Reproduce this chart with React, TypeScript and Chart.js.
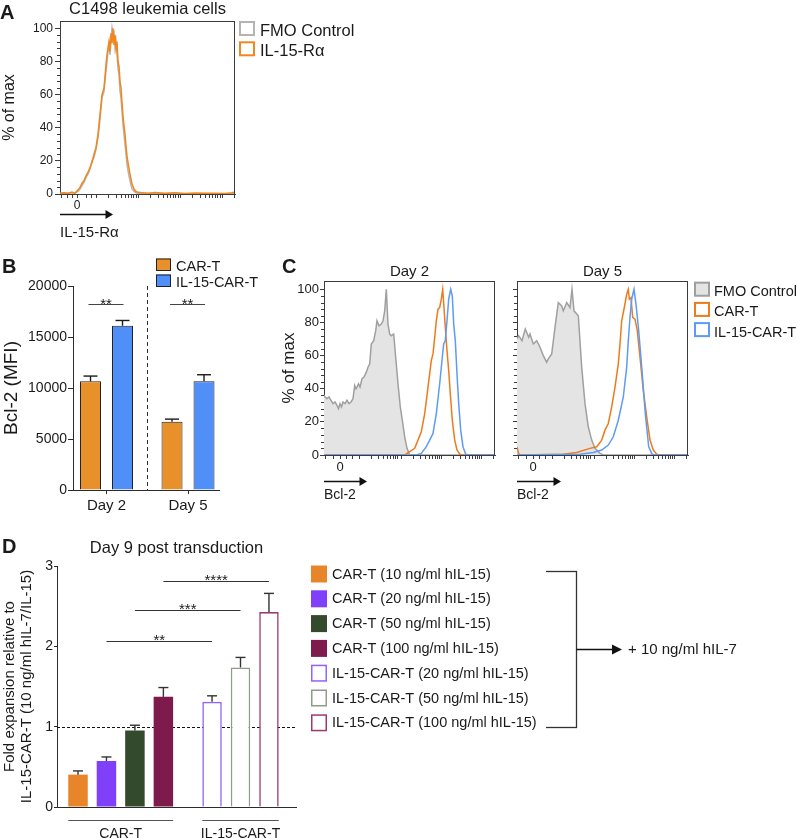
import React, { useEffect, useRef } from 'react';
import { Chart, registerables } from 'chart.js';

Chart.register(...registerables);

const FONT = "'Liberation Sans', Arial, Helvetica, sans-serif";
Chart.defaults.font.family = FONT;
Chart.defaults.color = '#1a1a1a';

const INK = '#1a1a1a';
const AXIS = '#2b2b2b';
const FRAME = '#3c3c3c';

/* ================= Panel A : C1498 leukemia cells ================= */
const aChannel = [0, 4, 8, 12, 15, 18, 20, 22, 24, 26, 28, 30, 32, 34, 36, 38, 40, 42, 44, 46, 47, 48, 49, 50, 51, 52, 53, 54, 55, 56, 57, 58, 59, 60, 61, 62, 63, 64, 65, 66, 67, 68, 70, 72, 74, 76, 78, 82, 88, 95, 105, 115, 125, 135, 145, 155, 165, 172, 175];
const aFmoControl = [0.3, 0.6, 0.5, 0.8, 0.6, 1.5, 3, 5, 7, 10, 12, 15, 20, 22, 27, 34, 45, 58, 62, 74, 80, 86, 90, 84, 93, 100, 95, 97, 88, 92, 84, 76, 72, 62, 58, 50, 42, 36, 30, 24, 18, 14, 8, 3, 1.5, 0.8, 0.5, 0.4, 0.3, 0.2, 0.2, 0.3, 0.2, 0.2, 0.3, 0.2, 0.2, 0.3, 0.4];
const aIl15Ra = [0.5, 0.8, 0.3, 1.2, 0.4, 2.5, 4, 6.5, 8, 11, 13, 16, 19, 24, 28, 36, 48, 60, 64, 78, 84, 88, 92, 86, 97, 91, 100, 90, 96, 88, 92, 80, 77, 68, 64, 55, 47, 41, 36, 29, 23, 19, 12, 6, 3, 1.5, 1, 0.8, 0.5, 0.9, 0.4, 0.7, 0.3, 0.6, 0.4, 0.5, 0.3, 0.7, 1.2];
const aLowTicks = [1, 7, 12, 17, 26, 31];
const aZeroTick = 17;
const aDecades = [36, 78, 120, 162];

/* ================= Panel B : Bcl-2 MFI ================= */
const bDays = ['Day 2', 'Day 5'];
const bSeries = ['CAR-T', 'IL-15-CAR-T'];
const bCarT = [10650, 6700];
const bCarTErr = [520, 250];
const bIl15CarT = [16100, 10650];
const bIl15CarTErr = [520, 650];
const bSigLabels = ['**', '**'];
const bSigLevel = 18200;
const bYTicks = [0, 5000, 10000, 15000, 20000];

/* ================= Panel C : Bcl-2 histograms ================= */
const cSeries = ['FMO Control', 'CAR-T', 'IL-15-CAR-T'];
// Day 2
const c2FmoX = [0, 1, 3, 5, 7, 9, 11, 13, 14.5, 16, 17.5, 19, 21, 23, 25, 27, 29, 30.7, 32, 33, 34.5, 36, 38, 40, 42.3, 44, 45.7, 47.3, 49.7, 51.7, 53, 55, 57.3, 59, 60.7, 62.3, 64, 65.7, 67.3, 69.7, 71.7, 74, 76.3, 78.3, 80.7, 83, 85.7, 171];
const c2FmoY = [36, 35, 34, 35, 33, 31, 32, 30, 28, 31, 29, 32, 31, 33, 31, 32, 34, 42, 40, 41, 43, 41, 46, 47, 50, 53, 55, 67, 69, 75, 81, 78, 79, 81, 87, 100, 79, 73, 72, 73, 59, 43, 29, 21, 11, 4, 0, 0];
const c2CarX = [0, 80.7, 85.7, 90.7, 94, 97.3, 100.7, 104, 107.3, 109, 110.7, 112.3, 114, 115.7, 117.3, 118.7, 120, 121.3, 123, 124.7, 126.3, 128.3, 130.7, 133, 135.7, 138, 171];
const c2CarY = [0, 0, 2, 4, 9, 14, 25, 41, 57, 61, 71, 81, 88, 89, 94, 100, 89, 77, 63, 51, 37, 21, 9, 3, 0.5, 0, 0];
const c2IlX = [0, 92.3, 97.3, 102.3, 105.7, 109, 112.3, 115.7, 118.3, 119.7, 121.3, 123, 124.7, 126.7, 128.3, 129.7, 131.3, 133, 134.7, 136.7, 139, 141.7, 145.7, 171];
const c2IlY = [0, 0, 1, 5, 9, 13, 25, 43, 59, 67, 69, 81, 94, 100, 96, 79, 69, 49, 31, 15, 5, 0.5, 0, 0];
// Day 5
const c5FmoX = [0, 1.7, 5, 8.3, 11.7, 13, 16.3, 19.7, 23, 26.3, 29.7, 31.3, 34.7, 38, 41.3, 44.7, 46.3, 49.7, 53, 55, 57, 61.3, 64.7, 68, 71.3, 74.7, 78, 83, 86.3, 171];
const c5FmoY = [70, 72, 69, 76, 71, 73, 67, 69, 65, 60, 56, 58, 61, 77, 92, 90, 87, 92, 89, 100, 87, 84, 53, 31, 17, 9, 4, 1, 0, 0];
const c5CarX = [0, 1.5, 3, 46.3, 59.7, 73, 79.7, 84.7, 88, 91.3, 94.7, 98, 101.3, 103, 104.7, 107.3, 109.7, 111.3, 112.3, 114, 115.7, 118, 120.3, 123, 126.3, 129.7, 133, 136.3, 139.7, 143, 171];
const c5CarY = [5, 1, 0, 0.5, 1.5, 4, 5, 9, 15, 19, 29, 41, 55, 67, 81, 89, 97, 100, 94, 95, 83, 82, 75, 59, 39, 23, 9, 3, 0.5, 0, 0];
const c5IlX = [0, 63, 76.3, 84.7, 91.3, 96.3, 101.3, 106.3, 109.7, 111.3, 113, 114.7, 117, 119, 121.7, 125, 128.3, 131.7, 135, 138.3, 171];
const c5IlY = [0, 0.5, 1.5, 3, 6, 11, 21, 35, 53, 69, 83, 94, 100, 91, 75, 51, 25, 5, 0.5, 0, 0];
const cLowTicks = [1, 9, 16, 22, 28];
const cZeroTick = 16;
const cDecades = [35.7, 77.3, 117.3, 157.3];

const histYTicks = [0, 20, 40, 60, 80, 100];

/* ================= Panel D : Day 9 fold expansion ================= */
const dLabels = [
  'CAR-T (10 ng/ml hIL-15)',
  'CAR-T (20 ng/ml hIL-15)',
  'CAR-T (50 ng/ml hIL-15)',
  'CAR-T (100 ng/ml hIL-15)',
  'IL-15-CAR-T (20 ng/ml hIL-15)',
  'IL-15-CAR-T (50 ng/ml hIL-15)',
  'IL-15-CAR-T (100 ng/ml hIL-15)',
];
const dGroups = ['CAR-T', 'CAR-T', 'CAR-T', 'CAR-T', 'IL-15-CAR-T', 'IL-15-CAR-T', 'IL-15-CAR-T'];
const dValues = [0.403, 0.573, 0.951, 1.371, 1.309, 1.737, 2.426];
const dErrors = [0.046, 0.05, 0.067, 0.116, 0.075, 0.125, 0.233];
const dSigPairs = [[1, 4], [2, 5], [3, 6]];
const dSigStars = ['**', '***', '****'];
const dSigLevels = [2.066, 2.452, 2.813];
const dYTicks = [0, 1, 2, 3];
const dReference = 1;
const dSideNote = '+ 10 ng/ml hIL-7';

/* ================= styles ================= */
const A_GRAY = '#B4B4B4';
const A_ORANGE = '#F0871F';
const B_ORANGE = '#E8902A';
const B_BLUE = '#4F8FF7';
const C_GRAY = '#A0A0A0';
const C_FILL = '#E4E4E4';
const C_ORANGE = '#EC7B1E';
const C_BLUE = '#5E9BF4';
const D_FILL = ['#E8852A', '#8040FA', '#334A2C', '#7E1B4C', '#FFFFFF', '#FFFFFF', '#FFFFFF'];
const D_EDGE = ['#E8852A', '#8040FA', '#334A2C', '#7E1B4C', '#9063FF', '#8E9C89', '#9C3A70'];
const D_GAP = 1.71; // slot distance between the two bar groups
const dSlot = dLabels.map((_, i) => (dGroups[i] === dGroups[0] ? i : i - 1 + D_GAP));

/* ================= drawing helpers ================= */
function text(ctx: any, s: string, x: number, y: number, size: number, align: string = 'left', baseline: string = 'alphabetic', bold = false, color = INK) {
  ctx.font = `${bold ? 'bold ' : ''}${size}px ${FONT}`;
  ctx.fillStyle = color;
  ctx.textAlign = align;
  ctx.textBaseline = baseline;
  ctx.fillText(s, x, y);
}
function seg(ctx: any, x1: number, y1: number, x2: number, y2: number, color = AXIS, w = 1, dash: number[] = []) {
  ctx.beginPath();
  ctx.setLineDash(dash);
  ctx.strokeStyle = color;
  ctx.lineWidth = w;
  ctx.moveTo(x1, y1);
  ctx.lineTo(x2, y2);
  ctx.stroke();
  ctx.setLineDash([]);
}
function arrow(ctx: any, x1: number, y: number, x2: number, head = 7.5, half = 4.5) {
  seg(ctx, x1, y, x2 - head + 1, y, '#111', 1.4);
  ctx.beginPath();
  ctx.fillStyle = '#111';
  ctx.moveTo(x2, y);
  ctx.lineTo(x2 - head, y - half);
  ctx.lineTo(x2 - head, y + half);
  ctx.closePath();
  ctx.fill();
}
function logicleTicks(low: number[], decades: number[], span: number, max: number): number[] {
  const out = [...low];
  decades.forEach((d) => {
    out.push(d);
    for (let k = 2; k <= 9; k++) out.push(d + span * Math.log10(k));
  });
  return out.filter((v) => v <= max);
}
const plainNumber = (v: number) => String(v);

/* ================= histogram panels (A, C) ================= */
function histConfig(spec: any) {
  const datasets = spec.series.map((s: any) => ({
    label: s.label,
    data: s.xs.map((x: number, i: number) => ({ x, y: s.ys[i] })),
    borderColor: s.color,
    backgroundColor: s.fill || 'rgba(0,0,0,0)',
    fill: s.fill ? 'origin' : false,
    borderWidth: 1.5,
    pointRadius: 0,
    tension: 0,
    order: s.order,
  }));
  const deco = {
    id: 'histDeco',
    afterDraw(chart: any) {
      const { ctx, chartArea: ca } = chart;
      const ys = chart.scales.y;
      ctx.save();
      seg(ctx, ca.left, ca.top + 0.5, ca.right, ca.top + 0.5, FRAME, 1);
      seg(ctx, ca.right - 0.5, ca.top, ca.right - 0.5, ca.bottom, FRAME, 1);
      for (let v = 0; v <= 100; v += 4) {
        if (v % 20 === 0) continue;
        const p = Math.round(ys.getPixelForValue(v)) + 0.5;
        seg(ctx, ca.left - 3, p, ca.left, p, FRAME, 1);
      }
      arrow(ctx, ca.left, Math.round(ca.bottom + spec.arrowDy) + 0.5, ca.left + spec.arrowLen);
      if (spec.title) text(ctx, spec.title, (ca.left + ca.right) / 2, spec.titleBaseline, spec.titleSize, 'center');
      if (spec.letter) text(ctx, spec.letter, spec.letterX, spec.letterBaseline, 20, 'left', 'alphabetic', true);
      if (spec.legend) {
        const L = spec.legend;
        spec.series.forEach((s: any, i: number) => {
          const by = L.y0 + i * L.pitch;
          ctx.fillStyle = s.fill || '#ffffff';
          ctx.fillRect(L.x, by, L.boxW, L.boxH);
          ctx.strokeStyle = s.color;
          ctx.lineWidth = 2;
          ctx.strokeRect(L.x + 1, by + 1, L.boxW - 2, L.boxH - 2);
          text(ctx, s.label, L.textX, by + L.boxH - 0.5, L.size, 'left');
        });
      }
      ctx.restore();
    },
  };
  return {
    type: 'line',
    data: { datasets },
    options: {
      responsive: false,
      maintainAspectRatio: false,
      animation: false,
      events: [],
      layout: { padding: spec.padding },
      plugins: { legend: { display: false }, tooltip: { enabled: false } },
      scales: {
        x: {
          type: 'linear',
          min: 0,
          max: spec.xMax,
          afterBuildTicks: (s: any) => {
            s.ticks = spec.xTicks.map((v: number) => ({ value: v }));
          },
          afterFit: (s: any) => {
            s.height = spec.xAxisHeight;
          },
          ticks: {
            autoSkip: false,
            maxRotation: 0,
            minRotation: 0,
            font: { size: spec.xTickFont },
            padding: spec.xTickPad,
            color: INK,
            callback: (v: number) => (v === spec.zeroTick ? '0' : ''),
          },
          grid: { drawOnChartArea: false, tickLength: 4, tickColor: FRAME, offset: false },
          border: { color: FRAME, width: 1 },
          title: {
            display: true,
            text: spec.xTitle,
            align: 'start',
            font: { size: spec.xTitleSize },
            padding: { top: 0, bottom: spec.xTitlePad },
            color: INK,
          },
        },
        y: {
          type: 'linear',
          min: 0,
          max: spec.yMax,
          afterBuildTicks: (s: any) => {
            s.ticks = histYTicks.map((v) => ({ value: v }));
          },
          afterFit: (s: any) => {
            s.width = spec.yAxisWidth;
          },
          ticks: { display: spec.yLabels, font: { size: spec.yTickFont }, padding: spec.yTickPad, color: INK, callback: plainNumber },
          grid: { drawOnChartArea: false, tickLength: spec.yTickLen, tickColor: FRAME },
          border: { color: FRAME, width: 1 },
          title: spec.yTitle
            ? { display: true, text: spec.yTitle, font: { size: spec.yTitleSize }, padding: { top: spec.yTitlePad, bottom: 0 }, color: INK }
            : { display: false },
        },
      },
    },
    plugins: [deco],
  };
}

const aConfig = () =>
  histConfig({
    series: [
      { label: 'FMO Control', xs: aChannel, ys: aFmoControl, color: A_GRAY, order: 2 },
      { label: 'IL-15-Rα', xs: aChannel, ys: aIl15Ra, color: A_ORANGE, order: 1 },
    ],
    xMax: 175,
    yMax: 104.4,
    yAxisWidth: 60,
    xAxisHeight: 51,
    padding: { left: 0, top: 21, right: 165, bottom: 0 },
    yLabels: true,
    yTickFont: 12,
    yTickPad: 2,
    yTickLen: 5,
    yTitle: '% of max',
    yTitleSize: 16,
    yTitlePad: 0,
    xTitle: 'IL-15-Rα',
    xTitleSize: 15,
    xTitlePad: 3,
    xTicks: logicleTicks(aLowTicks, aDecades, 42, 175),
    zeroTick: aZeroTick,
    xTickFont: 12,
    xTickPad: 0,
    arrowDy: 20.3,
    arrowLen: 53,
    title: 'C1498 leukemia cells',
    titleSize: 16.5,
    titleBaseline: 13.5,
    letter: 'A',
    letterX: 0,
    letterBaseline: 18.5,
    legend: { x: 239, y0: 21, pitch: 20.3, boxW: 16, boxH: 15, textX: 260, size: 16.5 },
  });

const cSeriesDay2 = [
  { label: cSeries[0], xs: c2FmoX, ys: c2FmoY, color: C_GRAY, fill: C_FILL, order: 3 },
  { label: cSeries[1], xs: c2CarX, ys: c2CarY, color: C_ORANGE, order: 2 },
  { label: cSeries[2], xs: c2IlX, ys: c2IlY, color: C_BLUE, order: 1 },
];
const cSeriesDay5 = [
  { label: cSeries[0], xs: c5FmoX, ys: c5FmoY, color: C_GRAY, fill: C_FILL, order: 3 },
  { label: cSeries[1], xs: c5CarX, ys: c5CarY, color: C_ORANGE, order: 2 },
  { label: cSeries[2], xs: c5IlX, ys: c5IlY, color: C_BLUE, order: 1 },
];

const c2Config = () =>
  histConfig({
    series: cSeriesDay2,
    xMax: 171,
    yMax: 105,
    yAxisWidth: 54,
    xAxisHeight: 50,
    padding: { left: 0, top: 41, right: 10, bottom: 0 },
    yLabels: true,
    yTickFont: 13,
    yTickPad: 1,
    yTickLen: 4,
    yTitle: '% of max',
    yTitleSize: 17,
    yTitlePad: 9,
    xTitle: 'Bcl-2',
    xTitleSize: 14,
    xTitlePad: 1,
    xTicks: logicleTicks(cLowTicks, cDecades, 40, 171),
    zeroTick: cZeroTick,
    xTickFont: 13,
    xTickPad: 1,
    arrowDy: 26,
    arrowLen: 43,
    title: 'Day 2',
    titleSize: 15,
    titleBaseline: 35.5,
    letter: 'C',
    letterX: 12,
    letterBaseline: 33.3,
  });

const c5Config = () =>
  histConfig({
    series: cSeriesDay5,
    xMax: 171,
    yMax: 105,
    yAxisWidth: 12,
    xAxisHeight: 50,
    padding: { left: 0, top: 41, right: 109, bottom: 0 },
    yLabels: false,
    yTickFont: 13,
    yTickPad: 1,
    yTickLen: 4,
    xTitle: 'Bcl-2',
    xTitleSize: 14,
    xTitlePad: 1,
    xTicks: logicleTicks(cLowTicks, cDecades, 40, 171),
    zeroTick: cZeroTick,
    xTickFont: 13,
    xTickPad: 1,
    arrowDy: 26,
    arrowLen: 44,
    title: 'Day 5',
    titleSize: 15,
    titleBaseline: 35.5,
    legend: { x: 189, y0: 41.7, pitch: 20.2, boxW: 16, boxH: 15, textX: 209, size: 14.5 },
  });

/* ================= Panel B config ================= */
function bConfig() {
  const values = [bCarT, bIl15CarT];
  const errs = [bCarTErr, bIl15CarTErr];
  const colors = [B_ORANGE, B_BLUE];
  const deco = {
    id: 'bDeco',
    beforeDatasetsDraw(chart: any) {
      const { ctx, chartArea: ca, scales } = chart;
      ctx.save();
      const sx = Math.round(scales.x.getPixelForValue(0.5)) + 0.5;
      seg(ctx, sx, ca.top, sx, ca.bottom, AXIS, 1, [4, 3]);
      ctx.restore();
    },
    afterDatasetsDraw(chart: any) {
      const { ctx, scales } = chart;
      const ys = scales.y;
      ctx.save();
      [0, 1].forEach((d) => {
        const meta = chart.getDatasetMeta(d);
        meta.data.forEach((el: any, i: number) => {
          const top = ys.getPixelForValue(values[d][i] + errs[d][i]);
          seg(ctx, el.x, el.y, el.x, top, '#1a1a1a', 1.4);
          seg(ctx, el.x - 7, top, el.x + 7, top, '#1a1a1a', 1.4);
        });
      });
      const m0 = chart.getDatasetMeta(0);
      const m1 = chart.getDatasetMeta(1);
      bDays.forEach((_, i) => {
        const x1 = m0.data[i].x - 2;
        const x2 = m1.data[i].x + 1;
        const y = Math.round(ys.getPixelForValue(bSigLevel)) + 0.5;
        seg(ctx, x1, y, x2, y, '#444', 1.2);
        text(ctx, bSigLabels[i], (x1 + x2) / 2, y + 4.5, 15, 'center');
      });
      bSeries.forEach((lab, i) => {
        const by = 18.5 + i * 16;
        ctx.fillStyle = colors[i];
        ctx.fillRect(156, by, 15, 12.5);
        ctx.strokeStyle = '#222';
        ctx.lineWidth = 1;
        ctx.strokeRect(156.5, by + 0.5, 14, 11.5);
        text(ctx, lab, 176, by + 12, 14.5, 'left');
      });
      text(ctx, 'B', 2, 33.3, 20, 'left', 'alphabetic', true);
      ctx.restore();
    },
  };
  return {
    type: 'bar',
    data: {
      datasets: bSeries.map((lab, d) => ({
        label: lab,
        data: bDays.map((_, i) => ({ x: i, y: values[d][i] })),
        backgroundColor: colors[d],
        borderColor: '#222',
        borderWidth: 1,
        categoryPercentage: 0.785,
        barPercentage: 0.656,
      })),
    },
    options: {
      responsive: false,
      maintainAspectRatio: false,
      animation: false,
      events: [],
      layout: { padding: { left: 0, top: 46, right: 51, bottom: 0 } },
      plugins: { legend: { display: false }, tooltip: { enabled: false } },
      scales: {
        x: {
          type: 'linear',
          min: -0.411,
          max: 1.38,
          offset: false,
          afterBuildTicks: (s: any) => {
            s.ticks = bDays.map((_, i) => ({ value: i }));
          },
          afterFit: (s: any) => {
            s.height = 25;
          },
          ticks: {
            autoSkip: false,
            maxRotation: 0,
            font: { size: 15 },
            padding: 3,
            color: INK,
            callback: (v: number) => bDays[v] ?? '',
          },
          grid: { drawOnChartArea: false, tickLength: 4, tickColor: AXIS, offset: false },
          border: { color: AXIS, width: 1 },
        },
        y: {
          min: 0,
          max: 20000,
          afterBuildTicks: (s: any) => {
            s.ticks = bYTicks.map((v) => ({ value: v }));
          },
          afterFit: (s: any) => {
            s.width = 73;
          },
          ticks: { font: { size: 14 }, padding: 1, color: INK, callback: plainNumber },
          grid: { drawOnChartArea: false, tickLength: 5, tickColor: AXIS },
          border: { color: AXIS, width: 1 },
          title: { display: true, text: 'Bcl-2 (MFI)', font: { size: 19 }, padding: { top: 0, bottom: 0 }, color: INK },
        },
      },
    },
    plugins: [deco],
  };
}

/* ================= Panel D config ================= */
function dConfig() {
  const deco = {
    id: 'dDeco',
    beforeDatasetsDraw(chart: any) {
      const { ctx, chartArea: ca, scales } = chart;
      ctx.save();
      const ry = Math.round(scales.y.getPixelForValue(dReference)) + 0.5;
      seg(ctx, ca.left, ry, ca.right, ry, '#111', 1, [3, 2]);
      ctx.restore();
    },
    afterDatasetsDraw(chart: any) {
      const { ctx, chartArea: ca, scales } = chart;
      const xs = scales.x;
      const ys = scales.y;
      const meta = chart.getDatasetMeta(0);
      ctx.save();
      meta.data.forEach((el: any, i: number) => {
        const top = ys.getPixelForValue(dValues[i] + dErrors[i]);
        seg(ctx, el.x, el.y, el.x, top, '#333', 1.4);
        seg(ctx, el.x - 5, top, el.x + 5, top, '#333', 1.4);
      });
      dSigPairs.forEach(([a, b], k) => {
        const x1 = xs.getPixelForValue(dSlot[a]);
        const x2 = xs.getPixelForValue(dSlot[b]);
        const y = Math.round(ys.getPixelForValue(dSigLevels[k])) + 0.5;
        seg(ctx, x1, y, x2, y, '#333', 1);
        text(ctx, dSigStars[k], (x1 + x2) / 2, y + 3, 15, 'center');
      });
      const groupNames = Array.from(new Set(dGroups));
      groupNames.forEach((g) => {
        const idx = dGroups.map((gg, i) => (gg === g ? i : -1)).filter((i) => i >= 0);
        const first = meta.data[idx[0]];
        const last = meta.data[idx[idx.length - 1]];
        const x1 = first.x - first.width / 2;
        const x2 = last.x + last.width / 2;
        seg(ctx, x1, 300.5, x2, 300.5, '#555', 1.2);
        text(ctx, g, (x1 + x2) / 2, 317.5, 14, 'center');
      });
      text(ctx, 'Day 9 post transduction', (ca.left + ca.right) / 2, 33, 16.5, 'center');
      text(ctx, 'D', 2, 33.3, 20, 'left', 'alphabetic', true);
      // legend
      dLabels.forEach((lab, i) => {
        const cy = 54 + i * 24.8;
        const bx = 311;
        const by = cy - 8.5;
        ctx.fillStyle = D_FILL[i];
        ctx.fillRect(bx, by, 16, 17);
        if (D_FILL[i] === '#FFFFFF') {
          ctx.strokeStyle = D_EDGE[i];
          ctx.lineWidth = 1.5;
          ctx.strokeRect(bx + 0.75, by + 0.75, 14.5, 15.5);
        }
        text(ctx, lab, 332, cy + 0.5, 14.5, 'left', 'middle');
      });
      // bracket
      seg(ctx, 546, 51.5, 577, 51.5, '#333', 1.3);
      seg(ctx, 576.5, 51, 576.5, 208, '#333', 1.3);
      seg(ctx, 546, 207.5, 577, 207.5, '#333', 1.3);
      arrow(ctx, 576.5, 129.5, 622, 10, 5);
      text(ctx, dSideNote, 628, 130, 15, 'left', 'middle');
      ctx.restore();
    },
  };
  return {
    type: 'bar',
    data: {
      datasets: [
        {
          label: 'Fold expansion',
          data: dValues.map((v, i) => ({ x: dSlot[i], y: v })),
          backgroundColor: D_FILL,
          borderColor: D_EDGE,
          borderWidth: dValues.map((_, i) => (D_FILL[i] === '#FFFFFF' ? 1.6 : 0)),
          categoryPercentage: 1,
          barPercentage: 0.685,
        },
      ],
    },
    options: {
      responsive: false,
      maintainAspectRatio: false,
      animation: false,
      events: [],
      layout: { padding: { left: 0, top: 46, right: 501, bottom: 0 } },
      plugins: { legend: { display: false }, tooltip: { enabled: false } },
      scales: {
        x: {
          type: 'linear',
          min: -0.738,
          max: 7.66,
          offset: false,
          afterBuildTicks: (s: any) => {
            s.ticks = dSlot.map((v) => ({ value: v }));
          },
          afterFit: (s: any) => {
            s.height = 31;
          },
          ticks: { display: false },
          grid: { display: false, offset: false },
          border: { color: AXIS, width: 1 },
        },
        y: {
          min: 0,
          max: 3,
          afterBuildTicks: (s: any) => {
            s.ticks = dYTicks.map((v) => ({ value: v }));
          },
          afterFit: (s: any) => {
            s.width = 57;
          },
          ticks: { font: { size: 14 }, padding: 1, color: INK, callback: plainNumber },
          grid: { drawOnChartArea: false, tickLength: 3, tickColor: AXIS },
          border: { color: AXIS, width: 1 },
          title: {
            display: true,
            text: ['Fold expansion relative to', 'IL-15-CAR-T (10 ng/ml hIL-7/IL-15)'],
            font: { size: 15, lineHeight: 1.13 },
            padding: { top: 1.5, bottom: 0 },
            color: INK,
          },
        },
      },
    },
    plugins: [deco],
  };
}

/* ================= React ================= */
function ChartCanvas({ left, top, width, height, build }: { left: number; top: number; width: number; height: number; build: () => any }) {
  const ref = useRef<HTMLCanvasElement | null>(null);
  useEffect(() => {
    if (!ref.current) return;
    const chart = new Chart(ref.current, build());
    return () => chart.destroy();
  }, []);
  return <canvas ref={ref} width={width} height={height} style={{ position: 'absolute', left, top, width, height }} />;
}

export default function App() {
  return (
    <div style={{ position: 'absolute', left: 0, top: 0, width: 797, height: 838, background: '#ffffff', overflow: 'hidden' }}>
      <ChartCanvas left={0} top={0} width={400} height={245} build={aConfig} />
      <ChartCanvas left={0} top={240} width={270} height={275} build={bConfig} />
      <ChartCanvas left={270} top={240} width={235} height={265} build={c2Config} />
      <ChartCanvas left={505} top={240} width={292} height={265} build={c5Config} />
      <ChartCanvas left={0} top={520} width={797} height={318} build={dConfig} />
    </div>
  );
}
